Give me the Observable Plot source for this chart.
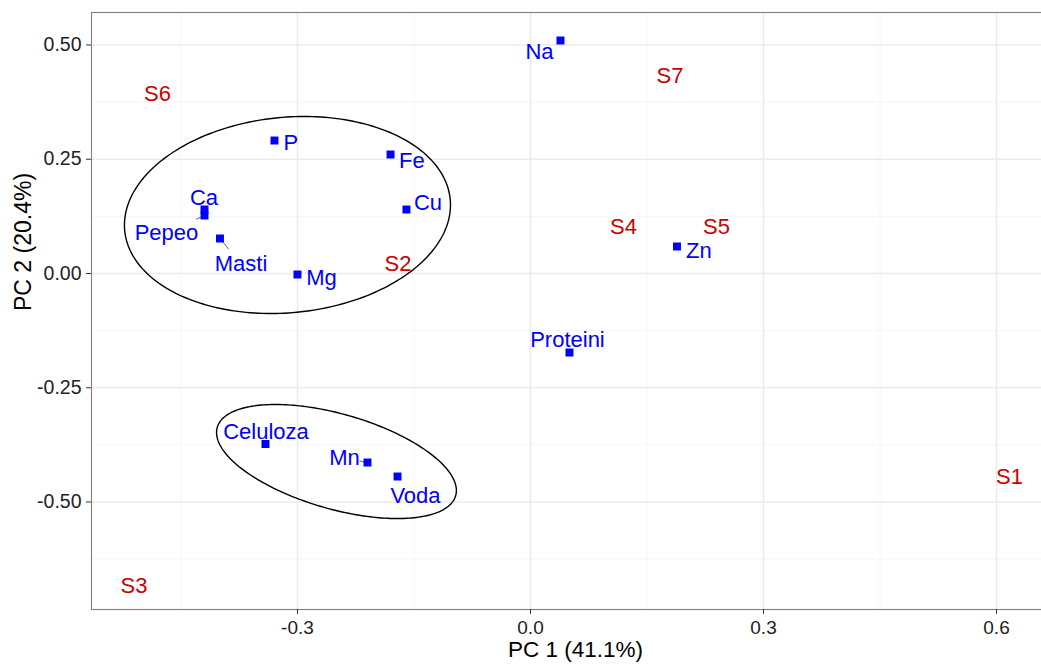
<!DOCTYPE html>
<html><head><meta charset="utf-8">
<script src="https://cdn.jsdelivr.net/npm/d3@7"></script>
<script src="https://cdn.jsdelivr.net/npm/@observablehq/plot@0.6"></script>
<style>
html,body{margin:0;padding:0;background:#fff;overflow:hidden;}
#chart{width:1041px;height:666px;overflow:hidden;}
#chart svg{max-width:none !important;width:1059px !important;height:666px !important;}
</style></head><body><div id="chart"></div>
<script>
// Variables (blue squares) — PCA loadings
const varNames = ["Na","P","Fe","Cu","Ca","Pepeo","Masti","Mg","Zn","Proteini","Celuloza","Mn","Voda"];
const varX =     [0.0386,-0.3296,-0.1802,-0.1597,-0.4197,-0.4197,-0.3998,-0.3000,0.1886,0.0502,-0.3412,-0.2099,-0.1712];
const varY =     [0.5098, 0.2910, 0.2604, 0.1400, 0.1400, 0.1269, 0.0766,-0.0022,0.0591,-0.1729,-0.3731,-0.4136,-0.4442];
// repelled label positions
const labelX =   [0.0116,-0.3084,-0.1526,-0.1320,-0.4204,-0.4687,-0.3727,-0.2691,0.2169,0.0476,-0.3405,-0.2395,-0.1481];
const labelY =   [0.4858, 0.2856, 0.2473, 0.1543, 0.1663, 0.0897, 0.0208,-0.0088,0.0503,-0.1444,-0.3457,-0.4037,-0.4858];
// leader segment length (fraction of point→label distance), 0 = none
const leaderFrac = [0,0,0,0,0,0.22,0.42,0,0,0,0,0.35,0];

// Samples (red labels) — PCA scores
const sampleNames = ["S1","S2","S3","S4","S5","S6","S7"];
const sampleX =     [0.6167,-0.1706,-0.5105,0.1197,0.2395,-0.4802,0.1796];
const sampleY =     [-0.4442,0.0208,-0.6827,0.1028,0.1028,0.3939,0.4333];

// Ellipses (centre in data units, semi-axes in screen px, tilt in degrees)
const ellipseCx = [-0.3129,-0.2498];
const ellipseCy = [0.1280,-0.4114];
const ellipseA = [163.5,124];
const ellipseB = [97.7,47.5];
const ellipseTilt = [5.5,-16];

// Axes
const xTicks = [-0.3,0,0.3,0.6];
const xTickLabels = ["-0.3","0.0","0.3","0.6"];
const yTicks = [0.5,0.25,0,-0.25,-0.5];
const yTickLabels = ["0.50","0.25","0.00","-0.25","-0.50"];
const xMinor = [-0.45,-0.15,0.15,0.45];
const yMinor = [0.375,0.125,-0.125,-0.375,-0.625];
const xTitle = "PC 1 (41.1%)";
const yTitle = "PC 2 (20.4%)";

const W = 1059, H = 666, mL = 91, mR = 0, mT = 12, mB = 57;
const xDomain = [-0.5652, 0.6811];
const yDomain = [-0.7352, 0.5711];
const kx = (W - mL - mR) / (xDomain[1] - xDomain[0]);
const ky = (H - mT - mB) / (yDomain[1] - yDomain[0]);

const vars = varNames.map((n,i)=>({name:n, x:varX[i], y:varY[i], lx:labelX[i], ly:labelY[i], f:leaderFrac[i]}));
const samples = sampleNames.map((n,i)=>({name:n, x:sampleX[i], y:sampleY[i]}));
const leaders = vars.filter(d=>d.f>0).map(d=>({x1:d.x, y1:d.y, x2:d.x+(d.lx-d.x)*d.f, y2:d.y+(d.ly-d.y)*d.f}));

const ellPts = [];
ellipseCx.forEach((cx,k)=>{
  const a = ellipseA[k], b = ellipseB[k], th = ellipseTilt[k]*Math.PI/180;
  for (let j=0;j<=240;j++){
    const t = j/240*2*Math.PI;
    const dx = a*Math.cos(t)*Math.cos(th) - b*Math.sin(t)*Math.sin(th);
    const dy = a*Math.cos(t)*Math.sin(th) + b*Math.sin(t)*Math.cos(th);
    ellPts.push({id:k, x: cx + dx/kx, y: ellipseCy[k] + dy/ky});
  }
});

const font = "'Liberation Sans', Arial, Helvetica, sans-serif";
const chart = Plot.plot({
  width: W, height: H,
  marginLeft: mL, marginRight: mR, marginTop: mT, marginBottom: mB,
  style: {fontFamily: font, background: "#fff", maxWidth: "none"},
  x: {domain: xDomain},
  y: {domain: yDomain},
  marks: [
    Plot.gridX(xMinor, {stroke:"#f4f4f4", strokeOpacity:1, strokeWidth:0.8}),
    Plot.gridY(yMinor, {stroke:"#f4f4f4", strokeOpacity:1, strokeWidth:0.8}),
    Plot.gridX(xTicks, {stroke:"#ebebeb", strokeOpacity:1, strokeWidth:1.5}),
    Plot.gridY(yTicks, {stroke:"#ebebeb", strokeOpacity:1, strokeWidth:1.5}),
    Plot.frame({stroke:"#7f7f7f", strokeWidth:1.1}),
    Plot.axisX({ticks: xTicks, tickFormat: d => xTickLabels[xTicks.indexOf(d)], tickSize:5, tickPadding:6, fontSize:19, fill:"#222", stroke:"#333", label:null}),
    Plot.axisY({ticks: yTicks, tickFormat: d => yTickLabels[yTicks.indexOf(d)], tickSize:5, tickPadding:5, fontSize:19.5, fill:"#222", stroke:"#333", label:null}),
    Plot.line(ellPts, {x:"x", y:"y", z:"id", stroke:"#000", strokeWidth:1.4}),
    Plot.link(leaders, {x1:"x1", y1:"y1", x2:"x2", y2:"y2", stroke:"#666", strokeWidth:1}),
    Plot.dot(vars, {x:"x", y:"y", symbol:"square", r:4.5, fill:"#0000ff"}),
    Plot.text(vars, {x:"lx", y:"ly", text:"name", fill:"#0000ff", fontSize:22}),
    Plot.text(samples, {x:"x", y:"y", text:"name", fill:"#cd0000", fontSize:22}),
    Plot.text([xTitle], {text: d=>d, frameAnchor:"bottom", dy:47, fontSize:22.5, fill:"#000"}),
    Plot.text([yTitle], {text: d=>d, frameAnchor:"left", rotate:-90, dx:-68, fontSize:23, fill:"#000"})
  ]
});
document.getElementById("chart").appendChild(chart);
</script>
</body></html>
